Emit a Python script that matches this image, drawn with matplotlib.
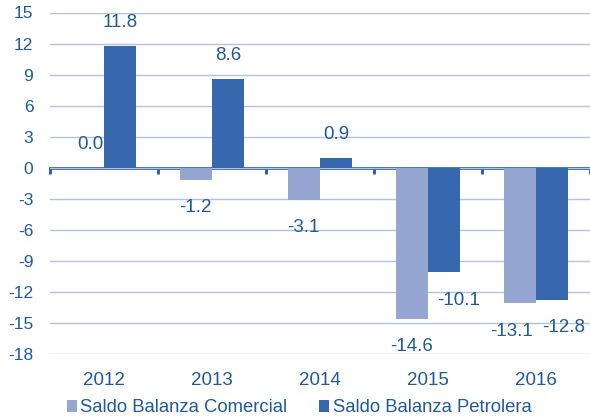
import matplotlib
matplotlib.use("Agg")
import matplotlib.pyplot as plt
import numpy as np

years = ["2012", "2013", "2014", "2015", "2016"]
comercial = [0.0, -1.2, -3.1, -14.6, -13.1]
petrolera = [11.8, 8.6, 0.9, -10.1, -12.8]
yticks = [15, 12, 9, 6, 3, 0, -3, -6, -9, -12, -15, -18]
series_names = ["Saldo Balanza Comercial", "Saldo Balanza Petrolera"]

c_light = "#95a6d3"
c_dark = "#3767ac"
c_text = "#1f5a9c"
c_grid = "#b6c1e1"
c_axis = "#1f5aa0"

plt.rcParams['font.family'] = ['Liberation Sans', 'DejaVu Sans']

fig = plt.figure(figsize=(5.90, 4.18), dpi=100)
ax = fig.add_axes([50/590, 64/418, 540/590, (354-12.5)/418])

x = np.arange(len(years))
w = 0.3
b1 = ax.bar(x - w/2, comercial, w, color=c_light, label=series_names[0], zorder=3)
b2 = ax.bar(x + w/2, petrolera, w, color=c_dark, label=series_names[1], zorder=3)

ax.set_xlim(-0.5, len(years) - 0.5)
ax.set_ylim(-18, 15)
ax.set_yticks(yticks)
ax.set_yticklabels([str(t) for t in yticks])
ax.yaxis.grid(True, color=c_grid, linewidth=1.0, zorder=0)
ax.set_axisbelow(True)
for s in ax.spines.values():
    s.set_visible(False)
ax.tick_params(axis='y', length=0, pad=12, labelsize=12.5, labelcolor=c_text)
ax.set_xticks(x)
ax.set_xticklabels(years)
ax.tick_params(axis='x', length=0, pad=13, labelsize=13.5, labelcolor=c_text)

# zero axis with category boundary ticks
sec = ax.secondary_xaxis(0, transform=ax.transData)
sec.set_xticks(np.arange(len(years) + 1) - 0.5)
sec.set_xticklabels([])
sec.tick_params(axis='x', direction='out', length=4, width=2, color=c_axis)
sec.spines['bottom'].set_color(c_axis)
sec.spines['bottom'].set_linewidth(2)

# value labels (dx in points per bar)
dx_com = [2, 0, 0, 0, -6]
dx_pet = [0, 0, 0, 10, 8]
for i, v in enumerate(comercial):
    off = 17 if v >= 0 else -20
    ax.annotate(f"{v:.1f}", (x[i] - w/2, v), xytext=(dx_com[i], off),
                textcoords="offset points", ha="center", va="center",
                fontsize=13.5, color=c_text, zorder=5)
for i, v in enumerate(petrolera):
    off = 17 if v >= 0 else -20
    ax.annotate(f"{v:.1f}", (x[i] + w/2, v), xytext=(dx_pet[i], off),
                textcoords="offset points", ha="center", va="center",
                fontsize=13.5, color=c_text, zorder=5)

leg = fig.legend(handles=[b1, b2], loc="center", bbox_to_anchor=(299/590, 10/418),
                 ncol=2, frameon=False, fontsize=13.3, handlelength=0.55, handleheight=0.55,
                 handletextpad=0.2, columnspacing=1.7, borderpad=0, borderaxespad=0)
for t in leg.get_texts():
    t.set_color(c_text)

fig.savefig("out.png", dpi=100)
